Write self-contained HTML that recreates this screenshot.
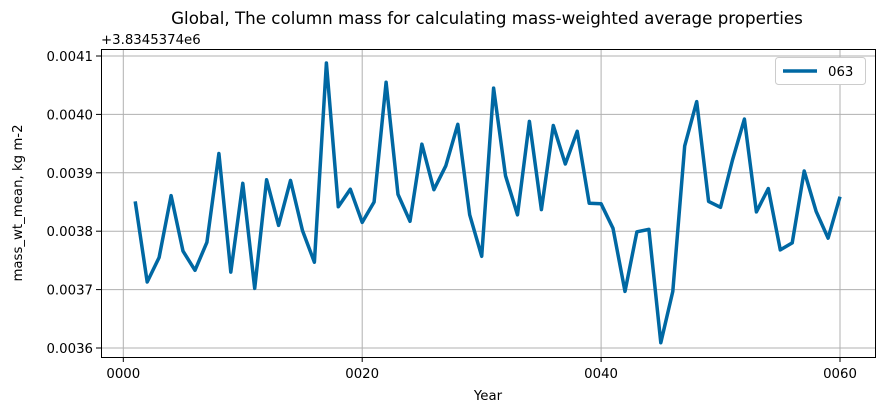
<!DOCTYPE html>
<html><head><meta charset="utf-8"><style>
body{margin:0;background:#fff;}
svg{display:block;font-family:"DejaVu Sans","Liberation Sans",sans-serif;}
</style></head><body>
<svg id="chart" width="884" height="412">
<text x="487" y="24" text-anchor="middle" font-size="16.7" fill="#000">Global, The column mass for calculating mass-weighted average properties</text>
<text x="101" y="44" font-size="13.3" fill="#000">+3.8345374e6</text>
<g id="grid"></g>
<g id="axes"></g>
<polyline id="series" fill="none" stroke="#0068a3" stroke-width="3.5" stroke-linejoin="round"/>
<rect x="101.5" y="49.5" width="774" height="308" fill="none" stroke="#000" stroke-width="1"/>
<text x="488" y="400" text-anchor="middle" font-size="13.3">Year</text>
<text transform="translate(22,203) rotate(-90)" text-anchor="middle" font-size="13.3">mass_wt_mean, kg m-2</text>
<g>
<rect x="775.5" y="57.5" width="90" height="27" rx="3" fill="#fff" stroke="#ccc"/>
<line x1="783" y1="71" x2="817" y2="71" stroke="#0068a3" stroke-width="3.5"/>
<text x="828" y="76" font-size="13.3">063</text>
</g>
</svg>
<script>
const years=[1,2,3,4,5,6,7,8,9,10,11,12,13,14,15,16,17,18,19,20,21,22,23,24,25,26,27,28,29,30,31,32,33,34,35,36,37,38,39,40,41,42,43,44,45,46,47,48,49,50,51,52,53,54,55,56,57,58,59,60];
const values=[.003851,.003713,.003755,.003861,.003766,.003733,.003781,.003933,.003730,.003882,.003702,.003888,.003810,.003887,.003801,.003747,.004088,.003842,.003872,.003815,.003850,.004055,.003863,.003817,.003949,.003871,.003912,.003983,.003828,.003757,.004045,.003895,.003828,.003988,.003837,.003981,.003915,.003971,.003848,.003847,.003805,.003697,.003799,.003803,.003609,.003697,.003946,.004022,.003851,.003841,.003922,.003992,.003833,.003873,.003768,.003780,.003903,.003834,.003788,.003859];
const xTicks=[0,20,40,60];
const xTickLabels=["0000","0020","0040","0060"];
const yTicks=[0.0036,0.0037,0.0038,0.0039,0.0040,0.0041];
const yTickLabels=["0.0036","0.0037","0.0038","0.0039","0.0040","0.0041"];
const X=v=>123.3+(v-0)*(840-123.3)/60;
const Y=v=>348-(v-0.0036)*(348-56)/0.0005;
const NS="http://www.w3.org/2000/svg";
const grid=document.getElementById('grid'),axes=document.getElementById('axes');
function mk(t,a,p){const e=document.createElementNS(NS,t);for(const k in a)e.setAttribute(k,a[k]);p.appendChild(e);return e;}
xTicks.forEach((t,i)=>{const x=X(t);
const g=mk('line',{x1:x,x2:x,y1:50,y2:357,stroke:'#b0b0b0','stroke-width':1},grid);


const tk=mk('line',{x1:x,x2:x,y1:357,y2:362,stroke:'#000'},axes);


const l=mk('text',{x:x,y:378,'text-anchor':'middle','font-size':13.3},axes);l.textContent=xTickLabels[i];


});
yTicks.forEach((t,i)=>{const y=Y(t);
const g=mk('line',{x1:102,x2:875,y1:y,y2:y,stroke:'#b0b0b0','stroke-width':1},grid);


const tk=mk('line',{x1:96,x2:101,y1:y,y2:y,stroke:'#000'},axes);


const l=mk('text',{x:93,y:y+5,'text-anchor':'end','font-size':13.3},axes);l.textContent=yTickLabels[i];


});
document.getElementById('series').setAttribute('points',years.map((yr,i)=>X(yr).toFixed(1)+','+Y(values[i]).toFixed(1)).join(' '));
</script>
</body></html>
